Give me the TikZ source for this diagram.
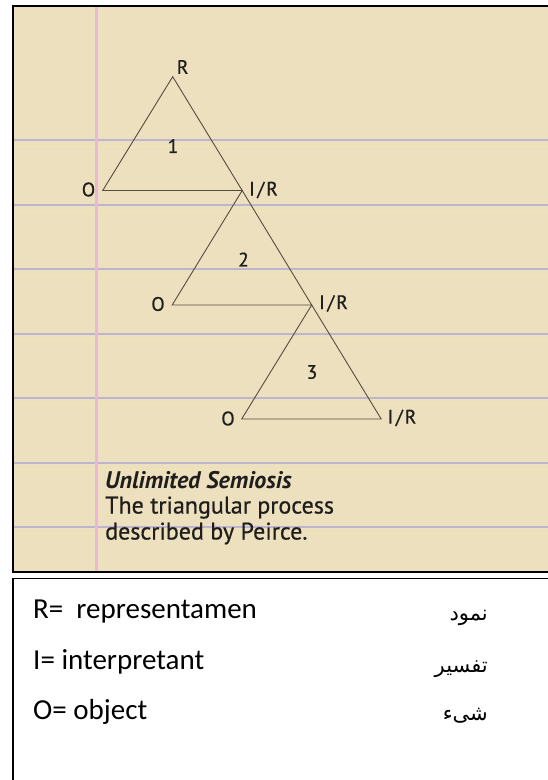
\documentclass[tikz,border=0pt]{standalone}
\usepackage{fontspec}
\setmainfont{Carlito}
\newfontfamily\dinfont[FakeBold=0.6]{PT Sans}
\newfontfamily\dinbi{PT Sans Bold Italic}
\newfontfamily\arabicfont[Script=Arabic]{DejaVu Sans}
\TeXXeTstate=1
\definecolor{paper}{HTML}{EDE0BF}
\definecolor{ruleblue}{HTML}{BDB4CF}
\definecolor{ruleyellow}{HTML}{F1E5B2}
\definecolor{marginpink}{HTML}{EDB6D3}
\definecolor{triline}{HTML}{554D3E}
\definecolor{ink}{HTML}{1F1E1C}
\newcommand{\irlabel}{I\kern2.5pt/\kern2pt R}
\tikzset{
  ruleline/.style={draw=ruleblue, line width=2pt},
  yline/.style={draw=ruleyellow, line width=1pt},
  marginline/.style={draw=marginpink, line width=2.5pt},
  tri/.style={draw=triline, line width=0.9pt, line join=miter},
  vlabel/.style={font=\dinfont\fontsize{19.5}{22}\selectfont, text=ink, inner sep=0pt},
  caption/.style={font=\dinfont\fontsize{24}{28}\selectfont, text=ink, inner sep=0pt, anchor=base west},
  legend/.style={font=\fontsize{29}{34}\selectfont, text=black, inner sep=0pt, anchor=base west},
  farsi/.style={font=\arabicfont\fontsize{21}{26}\selectfont, text=black, inner sep=0pt, anchor=base east}
}
\begin{document}
\begin{tikzpicture}[x=1pt,y=-1pt]
\useasboundingbox (0,0) rectangle (547,780);
\fill[white] (0,0) rectangle (547,780);
% notebook panel
\fill[paper] (12.7,6) rectangle (560,571.7);
\foreach \y in {140,204.5,269,333.5,398,462.5,527}{
  \draw[yline] (12.7,\y+6.5) -- (560,\y+6.5);
  \draw[ruleline] (12.7,\y) -- (560,\y);
}
\draw[marginline] (96.5,6) -- (96.5,571.7);
\draw[line width=2pt] (560,6) -- (12.7,6) -- (12.7,571.7) -- (560,571.7);
% legend box
\draw[line width=1.6pt] (560,578.5) -- (12.7,578.5) -- (12.7,790);
% triangle vertices
\coordinate (R1) at (172.7,76.7);
\coordinate (O1) at (102.7,190.5);
\coordinate (IR1) at (242.2,190.5);
\coordinate (O2) at (172.2,305);
\coordinate (IR2) at (311.7,305);
\coordinate (O3) at (241.7,419);
\coordinate (IR3) at (381.2,419);
\draw[tri] (R1) -- (O1) -- (IR1) -- cycle;
\draw[tri] (IR1) -- (O2) -- (IR2) -- cycle;
\draw[tri] (IR2) -- (O3) -- (IR3) -- cycle;
% labels
\node[vlabel] (lR) at (182.7,67) {R};
\node[vlabel] (lO1) at (88.5,189.5) {O};
\node[vlabel, anchor=west] (lIR1) at (249,190) {\irlabel};
\node[vlabel] (n1) at (173,146) {1};
\node[vlabel] (lO2) at (158,304) {O};
\node[vlabel, anchor=west] (lIR2) at (319,303.5) {\irlabel};
\node[vlabel] (n2) at (243.5,259.5) {2};
\node[vlabel] (lO3) at (228,418.5) {O};
\node[vlabel, anchor=west] (lIR3) at (387.5,418) {\irlabel};
\node[vlabel] (n3) at (312,372) {3};
% caption
\node[caption, font=\dinbi\fontsize{24}{28}\selectfont] (cap1) at (105,488) {Unlimited Semiosis};
\node[caption] (cap2) at (105,513.5) {The triangular process};
\node[caption] (cap3) at (105,539.5) {described by Peirce.};
% legend
\node[legend] (leg1) at (33,618.5) {R=\ \ representamen};
\node[legend] (leg2) at (33,669.5) {I= interpretant};
\node[legend] (leg3) at (33,719) {O= object};
\node[farsi] (fa1) at (488,620) {\beginR نمود\endR};
\node[farsi] (fa2) at (488,672) {\beginR تفسیر\endR};
\node[farsi] (fa3) at (488,720) {\beginR شیء\endR};
\end{tikzpicture}
\end{document}
